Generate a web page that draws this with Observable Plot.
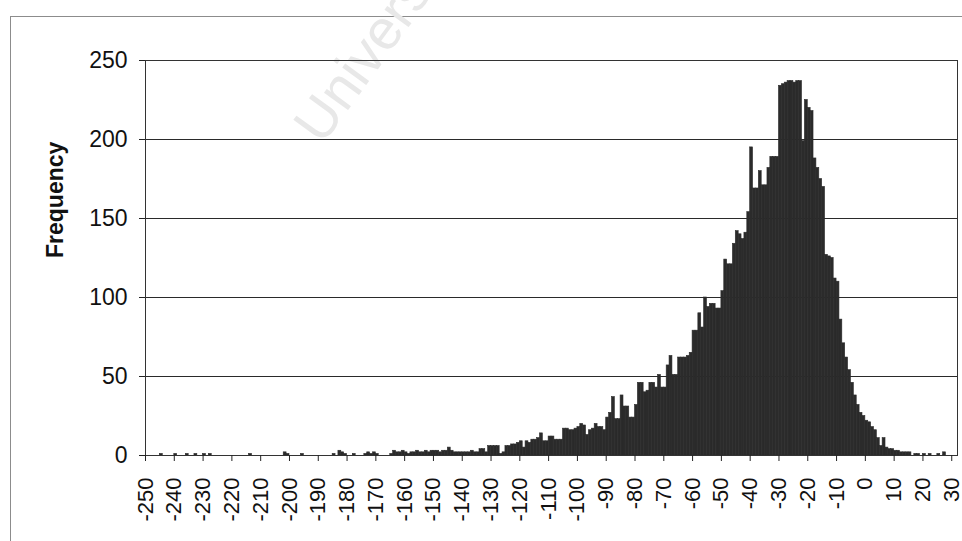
<!DOCTYPE html>
<html>
<head>
<meta charset="utf-8">
<script src="https://cdn.jsdelivr.net/npm/d3@7"></script>
<script src="https://cdn.jsdelivr.net/npm/@observablehq/plot@0.6"></script>
<style>
  html, body { margin: 0; padding: 0; background: #fff; width: 962px; height: 541px; overflow: hidden; }
  #frame { position: absolute; left: 10px; top: 16px; width: 990px; height: 600px; border: 1px solid #8c8c8c; }
  #mark { position: absolute; left: 0; top: 0; }
  #chart { position: absolute; left: 0; top: 0; }
</style>
</head>
<body>
<div id="frame"></div>
<svg id="mark" width="962" height="541">
  <text x="322" y="146" transform="rotate(-54 322 146)" font-family="Liberation Sans, Arial, sans-serif" font-size="56" fill="#e8e8e8">Univers</text>
</svg>
<div id="chart"></div>
<script>
// Lower edge of the first one-unit bin; each bin spans [edge, edge + 1).
const firstBin = -250;

// Frequency of each bin, from -250 up to 31.
const frequency = [
  0, 0, 0, 0, 0, 1, 0, 0, 0, 0,          // -250 .. -241
  1, 0, 0, 0, 1, 0, 0, 1, 0, 0,          // -240 .. -231
  1, 0, 1, 0, 0, 0, 0, 0, 0, 0,          // -230 .. -221
  0, 0, 0, 0, 0, 0, 1, 0, 0, 0,          // -220 .. -211
  0, 0, 0, 0, 0, 0, 0, 0, 2, 1,          // -210 .. -201
  0, 0, 0, 0, 1, 0, 0, 0, 0, 0,          // -200 .. -191
  0, 0, 0, 0, 0, 1, 0, 3, 2, 1,          // -190 .. -181
  0, 0, 1, 0, 0, 0, 1, 2, 1, 2,          // -180 .. -171
  1, 0, 0, 0, 0, 1, 3, 2, 2, 3,          // -170 .. -161
  2, 1, 2, 2, 3, 2, 2, 3, 2, 3,          // -160 .. -151
  3, 3, 2, 3, 3, 5, 3, 2, 2, 2,          // -150 .. -141
  2, 2, 2, 3, 2, 2, 4, 4, 2, 6,          // -140 .. -131
  6, 6, 6, 1, 2, 6, 6, 7, 7, 8,          // -130 .. -121
  9, 5, 9, 8, 10, 10, 11, 14, 9, 9,      // -120 .. -111
  12, 12, 10, 10, 10, 17, 17, 16, 16, 17, // -110 .. -101
  18, 20, 19, 13, 16, 17, 20, 18, 18, 16, // -100 .. -91
  24, 27, 37, 23, 23, 38, 31, 31, 24, 24, // -90 .. -81
  32, 46, 46, 40, 41, 46, 46, 43, 51, 43, // -80 .. -71
  43, 57, 63, 51, 51, 62, 62, 62, 63, 65, // -70 .. -61
  79, 79, 90, 81, 100, 94, 96, 96, 93, 93, // -60 .. -51
  104, 124, 121, 121, 134, 142, 140, 137, 141, 154, // -50 .. -41
  195, 169, 169, 180, 171, 171, 182, 189, 189, 189, // -40 .. -31
  234, 235, 236, 237, 237, 236, 237, 237, 199, 225, // -30 .. -21
  220, 218, 188, 182, 175, 170, 127, 126, 125, 112, // -20 .. -11
  110, 86, 71, 62, 54, 46, 38, 32, 27, 25, // -10 .. -1
  22, 21, 18, 16, 11, 6, 11, 5, 4, 4,    // 0 .. 9
  3, 3, 2, 2, 2, 2, 0, 1, 1, 0,          // 10 .. 19
  1, 0, 1, 0, 0, 1, 0, 2, 0, 0,          // 20 .. 29
  0, 0                                   // 30 .. 31
];

const xTicks = [-250, -240, -230, -220, -210, -200, -190, -180, -170, -160, -150, -140, -130,
  -120, -110, -100, -90, -80, -70, -60, -50, -40, -30, -20, -10, 0, 10, 20, 30];
const yTicks = [0, 50, 100, 150, 200, 250];
const yTitle = "Frequency";

const bins = frequency.map((count, i) => ({start: firstBin + i, end: firstBin + i + 1, count}));
const xMax = firstBin + frequency.length;

const font = "'Liberation Sans', Arial, Helvetica, sans-serif";
const barColor = "#2b2b2b";

const chart = Plot.plot({
  width: 962,
  height: 541,
  marginLeft: 145,
  marginRight: 5,
  marginTop: 60,
  marginBottom: 86,
  style: {fontFamily: font, fontSize: "23px", color: "#111", background: "transparent", overflow: "visible"},
  x: {domain: [firstBin, xMax], label: null},
  y: {domain: [0, 250], label: null},
  marks: [
    Plot.gridY(yTicks, {stroke: "#2a2a2a", strokeOpacity: 1, strokeWidth: 1}),
    // adjacent bins touch: a thin stroke of the same colour closes the anti-aliasing seams
    Plot.rectY(bins, {x1: "start", x2: "end", y: "count", fill: barColor, stroke: barColor, strokeWidth: 0.6, inset: 0}),
    Plot.frame({stroke: "#333", strokeWidth: 1}),
    Plot.axisY(yTicks, {tickSize: 6, tickPadding: 12, stroke: "#222", fill: "#111", label: null}),
    Plot.axisX(xTicks, {tickSize: 6, tickPadding: 16, tickRotate: -90, fontSize: 22, tickFormat: d => String(d), stroke: "#222", fill: "#111", label: null}),
    Plot.text([yTitle], {frameAnchor: "left", dx: -90, rotate: -90, fontWeight: "bold", fontSize: 23, fill: "#111"})
  ]
});

document.getElementById("chart").appendChild(chart);
</script>
</body>
</html>
